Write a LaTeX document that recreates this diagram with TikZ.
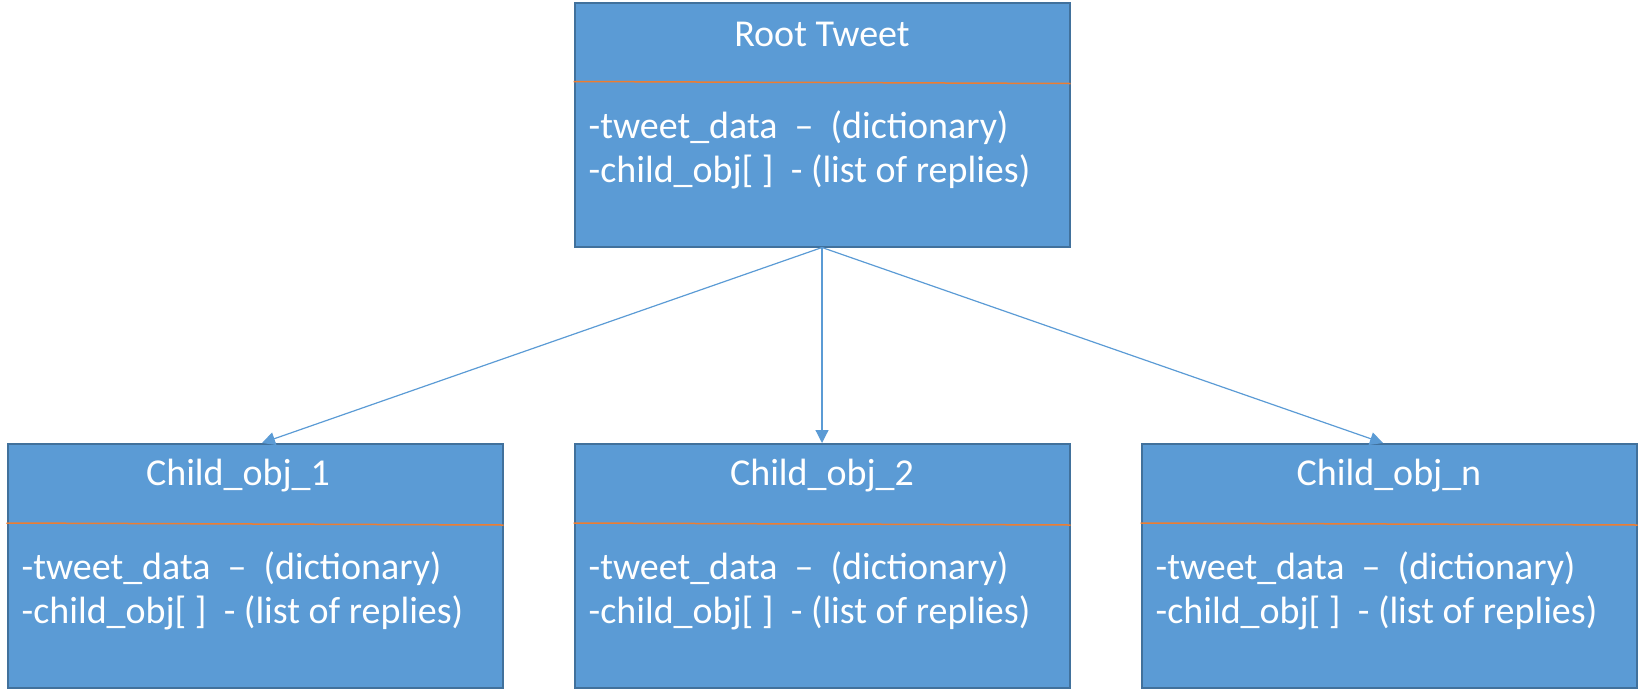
\documentclass[tikz,border=0pt]{standalone}
\usepackage{fontspec}
\setmainfont{Carlito}
\usetikzlibrary{arrows.meta}
\definecolor{boxfill}{HTML}{5B9BD5}
\definecolor{boxline}{HTML}{41719C}
\definecolor{divline}{HTML}{ED7D31}
\definecolor{arrowc}{HTML}{5B9BD5}
\tikzset{
  box/.style={draw=boxline, fill=boxfill, line width=2pt, minimum width=495pt, minimum height=244pt, inner sep=0pt},
  divider/.style={draw=divline, line width=1.5pt},
  titletext/.style={text=white, font=\fontsize{38}{45}\selectfont, inner sep=0pt},
  bodytext/.style={text=white, font=\fontsize{38}{44}\selectfont, align=left, inner sep=0pt, anchor=west},
  conn/.style={draw=arrowc, line width=1.2pt, -{Triangle[length=13pt,width=13pt]}}
}
\begin{document}
\begin{tikzpicture}[x=1pt,y=-1pt]
\useasboundingbox (0,0) rectangle (1638,689);
% boxes
\node[box] (root) at (822,124.5) {};
\node[box] (c1) at (255,566) {};
\node[box] (c2) at (822,566) {};
\node[box] (cn) at (1389,566) {};
% dividers
\foreach \b in {root,c1,c2,cn}{
  \draw[divider] ([yshift=-80pt]\b.north west) -- ([yshift=-82pt]\b.north east);
}
% titles
\node[titletext] (rootT) at ([yshift=-33pt]root.north) {Root Tweet};
\node[titletext] (c1T) at ([xshift=-17pt,yshift=-33pt]c1.north) {Child\_obj\_1};
\node[titletext] (c2T) at ([yshift=-33pt]c2.north) {Child\_obj\_2};
\node[titletext] (cnT) at ([yshift=-33pt]cn.north) {Child\_obj\_n};
% bodies
\foreach \b in {root,c1,c2,cn}{
  \node[bodytext] (\b B) at ([xshift=15pt,yshift=-148pt]\b.north west)
    {-tweet\_data\ \ –\ \ (dictionary)\\-child\_obj[\ ]\ \ - (list of replies)};
}
% connectors
\coordinate (e1) at ([xshift=7pt]c1.north);
\coordinate (en) at ([xshift=-6pt]cn.north);
\draw[conn] (root.south) -- (e1);
\draw[conn] (root.south) -- (c2.north);
\draw[conn] (root.south) -- (en);
\end{tikzpicture}
\end{document}
